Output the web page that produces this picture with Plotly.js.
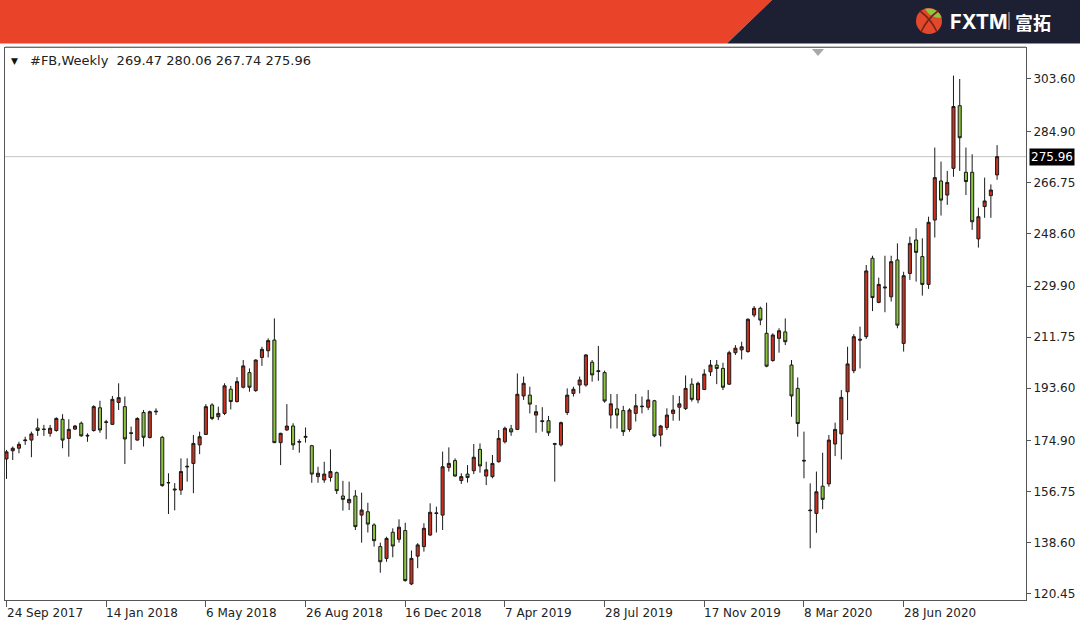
<!DOCTYPE html>
<html>
<head>
<meta charset="utf-8">
<script src="https://cdn.plot.ly/plotly-3.0.1.min.js"></script>
<style>html,body{margin:0;padding:0;background:#fff;}#chart{width:1080px;height:625px;}</style>
</head>
<body>
<div id="chart"></div>
<script>
const weeks = [
'2017-09-24','2017-10-01','2017-10-08','2017-10-15','2017-10-22','2017-10-29','2017-11-05','2017-11-12','2017-11-19','2017-11-26',
'2017-12-03','2017-12-10','2017-12-17','2017-12-24','2017-12-31','2018-01-07','2018-01-14','2018-01-21','2018-01-28','2018-02-04',
'2018-02-11','2018-02-18','2018-02-25','2018-03-04','2018-03-11','2018-03-18','2018-03-25','2018-04-01','2018-04-08','2018-04-15',
'2018-04-22','2018-04-29','2018-05-06','2018-05-13','2018-05-20','2018-05-27','2018-06-03','2018-06-10','2018-06-17','2018-06-24',
'2018-07-01','2018-07-08','2018-07-15','2018-07-22','2018-07-29','2018-08-05','2018-08-12','2018-08-19','2018-08-26','2018-09-02',
'2018-09-09','2018-09-16','2018-09-23','2018-09-30','2018-10-07','2018-10-14','2018-10-21','2018-10-28','2018-11-04','2018-11-11',
'2018-11-18','2018-11-25','2018-12-02','2018-12-09','2018-12-16','2018-12-23','2018-12-30','2019-01-06','2019-01-13','2019-01-20',
'2019-01-27','2019-02-03','2019-02-10','2019-02-17','2019-02-24','2019-03-03','2019-03-10','2019-03-17','2019-03-24','2019-03-31',
'2019-04-07','2019-04-14','2019-04-21','2019-04-28','2019-05-05','2019-05-12','2019-05-19','2019-05-26','2019-06-02','2019-06-09',
'2019-06-16','2019-06-23','2019-06-30','2019-07-07','2019-07-14','2019-07-21','2019-07-28','2019-08-04','2019-08-11','2019-08-18',
'2019-08-25','2019-09-01','2019-09-08','2019-09-15','2019-09-22','2019-09-29','2019-10-06','2019-10-13','2019-10-20','2019-10-27',
'2019-11-03','2019-11-10','2019-11-17','2019-11-24','2019-12-01','2019-12-08','2019-12-15','2019-12-22','2019-12-29','2020-01-05',
'2020-01-12','2020-01-19','2020-01-26','2020-02-02','2020-02-09','2020-02-16','2020-02-23','2020-03-01','2020-03-08','2020-03-15',
'2020-03-22','2020-03-29','2020-04-05','2020-04-12','2020-04-19','2020-04-26','2020-05-03','2020-05-10','2020-05-17','2020-05-24',
'2020-05-31','2020-06-07','2020-06-14','2020-06-21','2020-06-28','2020-07-05','2020-07-12','2020-07-19','2020-07-26','2020-08-02',
'2020-08-09','2020-08-16','2020-08-23','2020-08-30','2020-09-06','2020-09-13','2020-09-20','2020-09-27','2020-10-04','2020-10-11'
];
const openP = [
168.4,171.3,172.2,174.9,175.1,179.4,179.0,177.5,178.5,182.5,
175.7,179.0,181.1,176.8,178.5,186.6,181.6,180.7,188.5,187.0,
177.7,175.1,184.9,176.0,185.4,176.1,160.0,157.7,157.3,165.8,
166.8,173.4,177.1,187.6,183.4,184.6,193.2,188.8,193.9,199.1,
192.7,204.5,206.9,210.7,174.2,178.7,180.1,174.6,176.1,173.1,
162.1,160.9,161.8,163.5,155.2,152.8,155.2,148.4,149.6,144.9,
137.2,133.0,142.3,139.8,142.9,123.9,133.8,137.2,141.3,149.2,
148.4,165.4,167.8,160.7,163.0,164.2,171.8,162.3,162.1,167.4,
174.5,179.1,178.9,190.8,191.1,184.0,182.0,182.0,173.6,173.4,
184.9,191.7,194.7,194.7,202.8,199.8,199.1,184.0,186.2,185.6,
178.9,184.6,187.2,186.8,189.1,176.9,179.6,184.6,186.8,186.3,
195.0,189.4,193.1,199.4,201.8,200.6,195.0,206.2,207.2,206.6,
219.6,222.0,213.1,203.4,211.3,213.6,201.8,193.5,167.9,150.2,
149.0,158.7,159.5,173.7,177.3,192.3,199.8,211.0,211.9,239.8,
224.1,229.6,226.1,239.2,209.5,234.4,246.3,240.4,230.5,253.4,
267.3,262.3,271.8,294.1,270.4,270.4,246.7,258.2,262.1,269.47
];
const highP = [
171.6,172.8,174.5,176.3,178.1,182.8,180.5,180.5,183.2,184.3,
182.5,180.5,181.7,177.5,187.5,189.1,182.3,190.8,195.3,190.6,
179.9,183.2,185.8,185.6,186.4,176.6,163.3,159.8,168.6,168.6,
176.9,178.1,187.9,188.2,187.0,195.3,194.4,197.5,203.6,200.6,
203.8,208.3,211.3,218.4,177.7,187.9,181.1,175.4,179.6,173.4,
165.6,167.4,171.8,163.9,160.6,160.3,157.3,156.4,152.8,145.5,
138.6,140.7,143.7,146.9,145.7,135.8,138.4,145.5,152.6,151.4,
171.0,172.5,168.6,163.3,166.2,173.7,173.9,167.4,169.8,178.7,
179.9,180.5,198.8,197.7,194.1,187.6,186.8,183.7,174.1,181.7,
193.5,194.1,197.7,205.7,203.6,208.6,199.8,191.5,191.5,187.3,
186.4,191.5,190.6,192.9,189.4,180.5,186.4,191.1,190.8,198.1,
197.1,195.9,200.3,203.6,203.6,202.6,206.9,208.9,210.1,218.4,
222.8,222.6,224.0,213.1,214.9,218.4,203.6,197.4,178.1,159.7,
163.9,170.6,176.9,181.3,192.9,208.3,212.8,215.5,237.4,240.7,
232.9,240.7,240.7,245.1,235.0,247.5,250.5,246.9,254.6,279.2,
274.2,270.9,304.8,303.6,279.2,276.8,257.8,268.5,266.1,280.06
];
const lowP = [
161.3,168.0,170.4,173.4,169.0,176.6,176.6,176.3,178.1,172.2,
169.2,178.7,176.3,174.5,178.1,177.7,175.4,180.5,185.8,166.6,
171.6,174.9,172.8,175.7,184.0,158.5,148.8,150.1,155.6,160.3,
156.2,170.1,176.9,182.2,182.2,184.0,186.0,188.5,193.5,192.3,
192.3,201.5,204.5,174.0,166.2,178.4,171.6,170.6,174.2,159.9,
159.9,159.9,160.3,155.9,150.0,150.2,143.1,138.6,142.2,137.2,
127.9,131.8,133.4,138.6,124.7,123.5,129.5,135.4,141.0,142.2,
143.1,163.9,162.1,159.5,160.0,163.0,163.5,159.1,161.5,167.1,
173.9,176.6,178.7,189.4,184.6,177.7,178.1,176.6,160.3,172.8,
184.0,190.6,191.7,194.1,195.9,196.2,188.4,179.2,179.2,176.6,
178.1,181.7,184.6,185.8,176.1,172.8,178.7,182.0,182.0,185.8,
188.8,188.2,192.9,197.9,195.0,192.9,194.7,205.4,203.8,206.2,
218.8,216.0,201.0,203.0,206.2,208.9,183.4,176.3,161.5,136.6,
142.1,150.5,158.5,169.4,168.2,182.2,198.9,200.6,211.1,221.0,
223.8,220.6,224.4,214.9,206.6,232.1,231.5,226.5,228.9,247.2,
255.0,258.8,268.8,270.9,262.3,249.9,243.6,254.2,254.2,267.74
];
const closeP = [
170.9,172.2,173.6,175.1,177.3,178.5,178.9,179.3,182.8,175.1,
178.9,180.1,176.6,176.6,187.0,178.7,181.4,189.6,190.2,175.5,
177.5,182.8,176.1,185.2,185.2,158.9,159.9,157.4,163.9,165.6,
173.9,176.3,187.0,182.8,184.6,194.4,188.8,195.9,201.5,193.9,
203.6,207.4,210.5,174.2,177.5,180.1,173.4,174.4,176.4,163.0,
163.3,163.0,163.9,157.1,154.0,154.0,144.3,150.2,145.2,139.3,
131.8,140.1,137.4,144.1,125.1,133.0,137.8,143.7,149.4,149.0,
165.6,166.8,162.3,162.1,161.8,169.0,165.9,164.5,166.8,175.7,
179.3,178.0,191.4,195.3,187.9,185.2,181.7,177.7,173.8,181.3,
191.1,193.2,196.5,205.4,198.3,199.5,189.0,188.0,184.0,178.1,
185.8,187.3,187.0,189.4,176.6,180.1,184.0,185.8,188.0,193.5,
189.6,195.3,198.6,201.8,200.6,193.9,206.2,207.8,208.3,218.1,
222.0,217.8,201.4,212.5,214.0,210.1,190.8,181.0,167.7,150.0,
156.7,154.0,175.1,178.9,190.3,202.2,211.9,210.7,235.3,225.8,
230.5,229.3,238.6,216.0,233.6,245.1,241.9,230.5,252.6,268.5,
260.5,266.8,293.8,282.7,267.1,252.8,254.6,260.2,264.1,275.96
];
const xTickDates = ['2017-09-24','2018-01-14','2018-05-06','2018-08-26','2018-12-16','2019-04-07','2019-07-28','2019-11-17','2020-03-08','2020-06-28'];
const xTickLabels = ['24 Sep 2017','14 Jan 2018','6 May 2018','26 Aug 2018','16 Dec 2018','7 Apr 2019','28 Jul 2019','17 Nov 2019','8 Mar 2020','28 Jun 2020'];
const yTickVals = [303.60,284.90,266.75,248.60,229.90,211.75,193.60,174.90,156.75,138.60,120.45];
const yTickLabels = ['303.60','284.90','266.75','248.60','229.90','211.75','193.60','174.90','156.75','138.60','120.45'];
const symbolName = '#FB,Weekly';
const lastBar = {open: '269.47', high: '280.06', low: '267.74', close: '275.96'};
const lastPrice = 275.96;

// layout geometry (pixels)
const W = 1080, H = 625;
const PL = 5, PR = 1026, PT = 48, PB = 600;
const px = X => (X - PL) / (PR - PL);
const py = Y => (PB - Y) / (PB - PT);
const WEEK = 7 * 24 * 3600 * 1000;
const t0 = Date.parse(weeks[0]);

const FONT = 'DejaVu Sans';

const trace = {
  type: 'candlestick',
  x: weeks, open: openP, high: highP, low: lowP, close: closeP,
  increasing: {line: {color: '#1a1a1a', width: 1}, fillcolor: '#c8321f'},
  decreasing: {line: {color: '#1a1a1a', width: 1}, fillcolor: '#8cc63f'},
  whiskerwidth: 0,
  hoverinfo: 'skip',
  showlegend: false
};

const shapes = [
  {type: 'path', xref: 'paper', yref: 'paper', layer: 'above',
   path: `M ${px(0)},${py(0)} L ${px(772)},${py(0)} L ${px(727)},${py(43.5)} L ${px(0)},${py(43.5)} Z`,
   fillcolor: '#e9432a', line: {width: 0}},
  {type: 'path', xref: 'paper', yref: 'paper', layer: 'above',
   path: `M ${px(772)},${py(0)} L ${px(1080)},${py(0)} L ${px(1080)},${py(43.5)} L ${px(727)},${py(43.5)} Z`,
   fillcolor: '#1c2032', line: {width: 0}},
  {type: 'circle', xref: 'paper', yref: 'paper', layer: 'above',
   x0: px(916), x1: px(942), y0: py(34), y1: py(8),
   fillcolor: '#e2492c', line: {width: 0}},
  {type: 'path', xref: 'paper', yref: 'paper', layer: 'above',
   path: `M ${px(925)},${py(8.7)} Q ${px(937)},${py(7)} ${px(941.6)},${py(17.5)} Q ${px(931)},${py(19)} ${px(925)},${py(8.7)} Z`,
   fillcolor: '#8dc63f', line: {width: 0}},
  {type: 'path', xref: 'paper', yref: 'paper', layer: 'above',
   path: `M ${px(920)},${py(11)} Q ${px(931)},${py(19)} ${px(937)},${py(32)}`,
   line: {color: '#7a2418', width: 1.6}},
  {type: 'path', xref: 'paper', yref: 'paper', layer: 'above',
   path: `M ${px(938)},${py(11)} Q ${px(927)},${py(19)} ${px(921)},${py(32)}`,
   line: {color: '#7a2418', width: 1.6}},
  {type: 'line', xref: 'paper', yref: 'paper', layer: 'above',
   x0: px(1009), x1: px(1009), y0: py(12), y1: py(30),
   line: {color: '#c9ccd4', width: 1}},
  {type: 'line', xref: 'paper', yref: 'paper', layer: 'above',
   x0: px(5), x1: px(1026), y0: py(47), y1: py(47),
   line: {color: '#8a8a8a', width: 1}},
  {type: 'path', xref: 'paper', yref: 'paper', layer: 'above',
   path: `M ${px(812)},${py(49)} L ${px(824)},${py(49)} L ${px(818)},${py(56)} Z`,
   fillcolor: '#a8a8a8', line: {width: 0}},
  {type: 'line', xref: 'paper', yref: 'y', layer: 'below',
   x0: 0, x1: 1, y0: lastPrice, y1: lastPrice,
   line: {color: '#c4c4c4', width: 1}}
];

const annotations = [
  {xref: 'paper', yref: 'paper', x: px(948), y: py(21.5), xanchor: 'left', yanchor: 'middle',
   text: '<b>FXTM</b>', showarrow: false, font: {family: 'Inter', size: 20, color: '#ffffff'}},
  {xref: 'paper', yref: 'paper', x: px(1013), y: py(21.5), xanchor: 'left', yanchor: 'middle',
   text: '<b>富拓</b>', showarrow: false, font: {family: 'Noto Sans CJK SC', size: 18, color: '#ffffff'}},
  {xref: 'paper', yref: 'paper', x: px(9), y: py(60.5), xanchor: 'left', yanchor: 'middle',
   text: '▼', showarrow: false, font: {family: FONT, size: 9, color: '#111'}},
  {xref: 'paper', yref: 'paper', x: px(28), y: py(60.5), xanchor: 'left', yanchor: 'middle',
   text: symbolName + '  ' + [lastBar.open, lastBar.high, lastBar.low, lastBar.close].join(' '),
   showarrow: false, font: {family: FONT, size: 13, color: '#222'}},
  {xref: 'paper', yref: 'y', x: 1, y: lastPrice, xanchor: 'left', yanchor: 'middle', xshift: 3,
   text: lastPrice.toFixed(2), showarrow: false, bgcolor: '#000000', borderpad: 1,
   font: {family: FONT, size: 12, color: '#ffffff'}}
];
xTickDates.forEach((d, k) => {
  annotations.push({xref: 'x', yref: 'paper', x: d, y: py(613), xanchor: 'left', yanchor: 'middle',
    xshift: -2, text: xTickLabels[k], showarrow: false, font: {family: FONT, size: 12, color: '#222'}});
});

const layout = {
  width: W, height: H,
  margin: {l: PL, r: W - PR, t: PT, b: H - PB, pad: 0},
  paper_bgcolor: '#ffffff', plot_bgcolor: '#ffffff',
  font: {family: FONT, size: 12, color: '#222'},
  showlegend: false,
  xaxis: {
    type: 'date',
    range: [t0 - 0.24 * WEEK, t0 + 163.64 * WEEK],
    rangeslider: {visible: false},
    showgrid: false, zeroline: false,
    showline: true, linecolor: '#555', linewidth: 1, mirror: true,
    tickmode: 'array', tickvals: xTickDates, showticklabels: false,
    ticks: 'outside', ticklen: 6, tickcolor: '#555'
  },
  yaxis: {
    side: 'right',
    range: [118.19, 314.63],
    showgrid: false, zeroline: false,
    showline: true, linecolor: '#555', linewidth: 1, mirror: true,
    tickmode: 'array', tickvals: yTickVals, ticktext: yTickLabels,
    ticks: 'outside', ticklen: 4, tickcolor: '#555',
    tickfont: {family: FONT, size: 12, color: '#222'}
  },
  shapes: shapes,
  annotations: annotations
};

Plotly.newPlot('chart', [trace], layout, {staticPlot: true, displayModeBar: false});
</script>
</body>
</html>
